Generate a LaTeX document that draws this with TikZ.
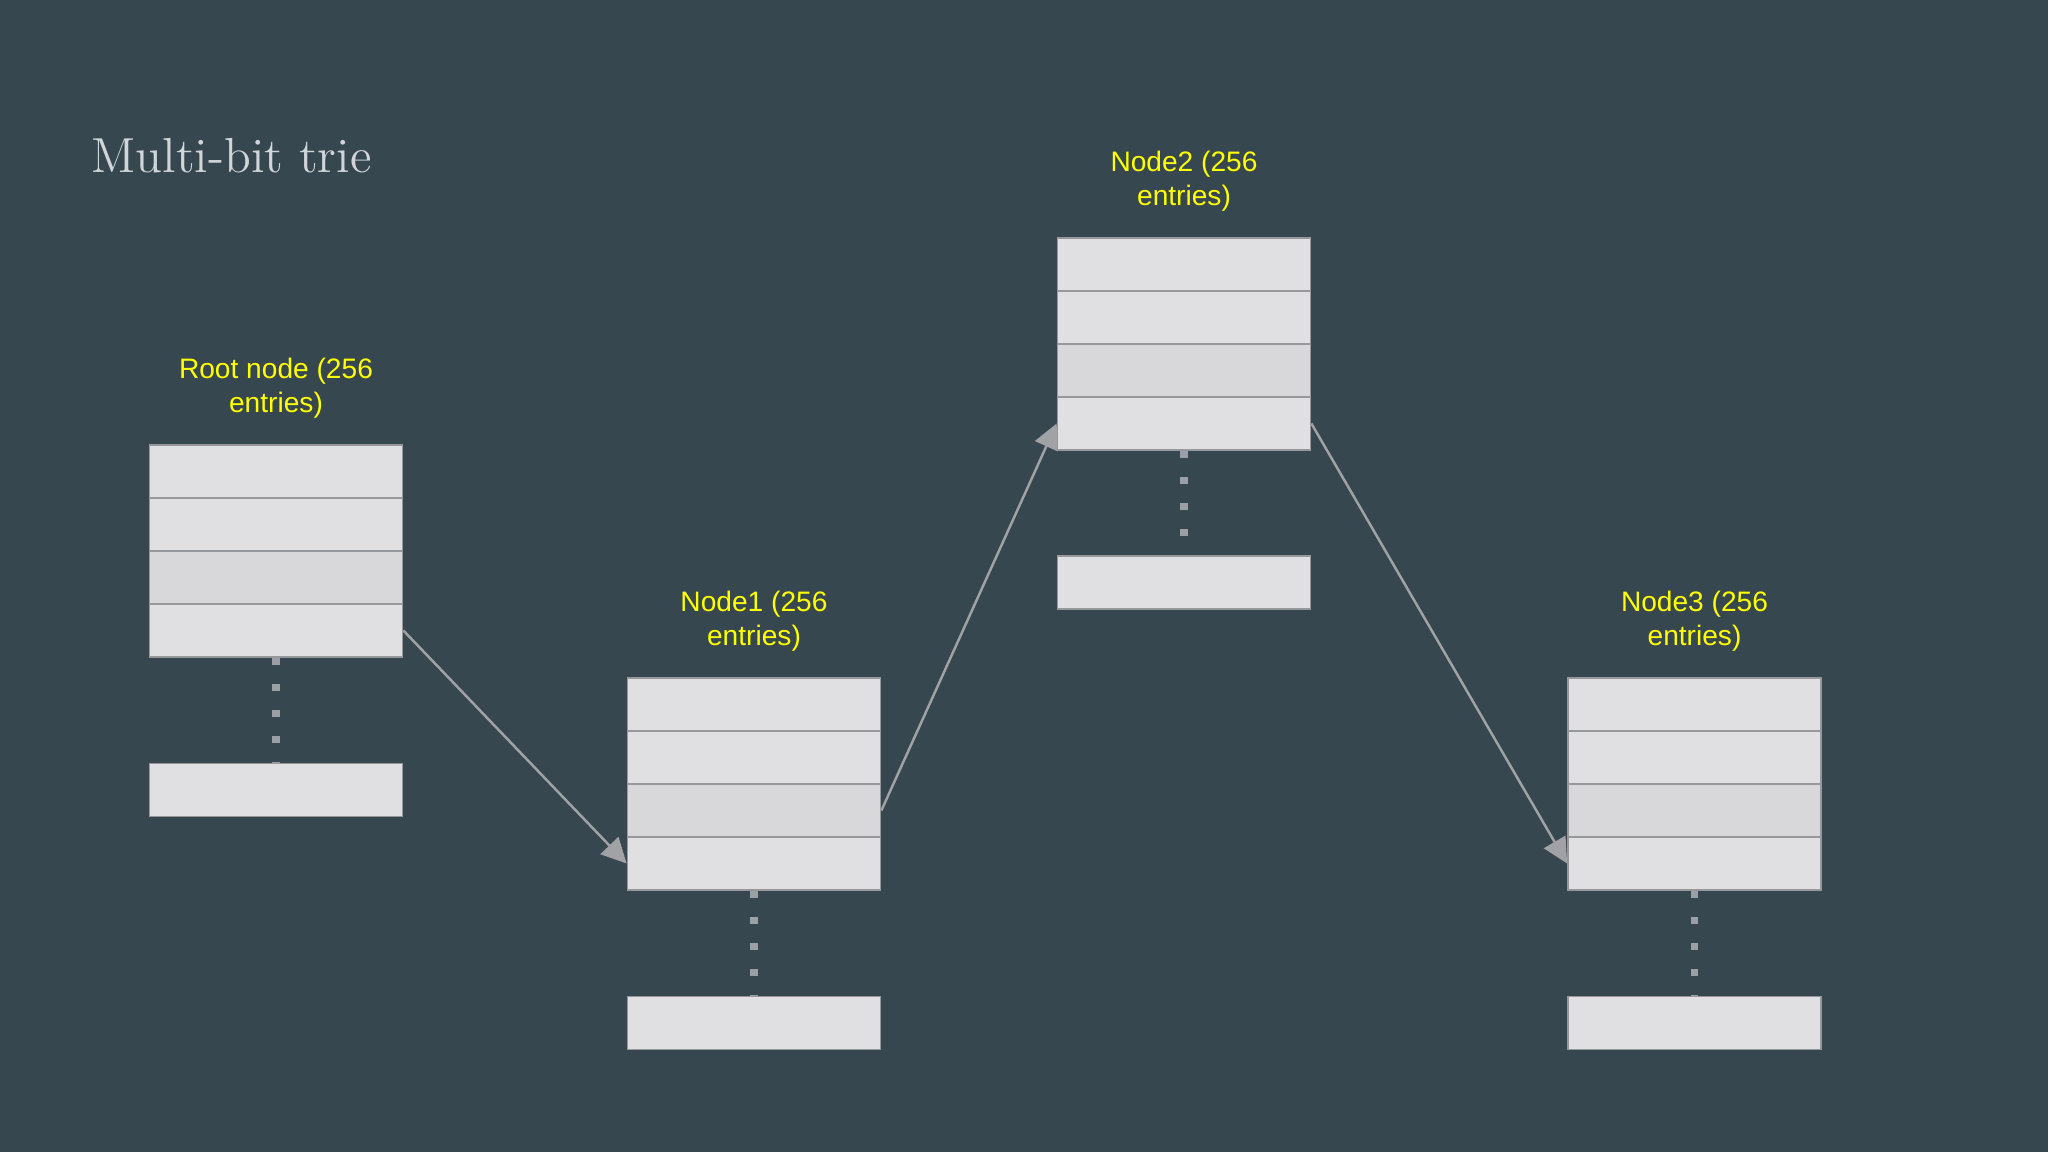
\documentclass[tikz,border=0pt]{standalone}
\usepackage{fontspec}
\usetikzlibrary{arrows.meta}
\newfontfamily\captionfont{Liberation Sans}
\definecolor{slate}{RGB}{55,71,79}
\definecolor{boxfill}{RGB}{224,224,226}
\definecolor{boxdark}{RGB}{216,216,218}
\definecolor{boxline}{RGB}{150,152,156}
\definecolor{linkgrey}{RGB}{160,162,165}
\definecolor{dotgrey}{RGB}{154,160,166}
\definecolor{capyellow}{RGB}{255,255,0}
\definecolor{titlegrey}{RGB}{208,213,217}
\pgfdeclarelayer{back}
\pgfsetlayers{back,main}
\tikzset{
  entry/.style={draw=boxline, fill=boxfill, line width=0.45pt, minimum width=2.53cm, minimum height=0.53cm, inner sep=0pt},
  darkentry/.style={entry, fill=boxdark},
  caption/.style={text=capyellow, font=\captionfont\fontsize{8}{9.7}\selectfont, align=center, inner sep=0pt},
  link/.style={draw=linkgrey, line width=0.7pt, -{Triangle[length=7.1pt,width=7pt,fill=linkgrey]}},
  dots/.style={draw=dotgrey, line width=2pt, dash pattern=on 2pt off 5.4pt}
}
\begin{document}
\begin{tikzpicture}[x=0.01cm,y=-0.01cm]
  \useasboundingbox (0,0) rectangle (2048,1152);
  \node[anchor=base west, inner sep=0pt, text=titlegrey, font=\fontsize{14}{16}\selectfont] (title) at (91,173) {Multi-bit trie};
  % root node
  \path node[caption] (Rcap) at (276,388) {Root node (256\\entries)}
        node[entry] (R1) at (276,471.5) {}
        node[entry] (R2) at (276,524.5) {}
        node[darkentry] (R3) at (276,577.5) {}
        node[entry] (R4) at (276,630.5) {}
        node[entry] (R5) at (276,790) {};
  % node 1
  \path node[caption] (Acap) at (754,621) {Node1 (256\\entries)}
        node[entry] (A1) at (754,704.5) {}
        node[entry] (A2) at (754,757.5) {}
        node[darkentry] (A3) at (754,810.5) {}
        node[entry] (A4) at (754,863.5) {}
        node[entry] (A5) at (754,1023) {};
  % node 2
  \path node[caption] (Bcap) at (1184,181) {Node2 (256\\entries)}
        node[entry] (B1) at (1184,264.5) {}
        node[entry] (B2) at (1184,317.5) {}
        node[darkentry] (B3) at (1184,370.5) {}
        node[entry] (B4) at (1184,423.5) {}
        node[entry] (B5) at (1184,582.5) {};
  % node 3
  \path node[caption] (Ccap) at (1694.5,621) {Node3 (256\\entries)}
        node[entry] (C1) at (1694.5,704.5) {}
        node[entry] (C2) at (1694.5,757.5) {}
        node[darkentry] (C3) at (1694.5,810.5) {}
        node[entry] (C4) at (1694.5,863.5) {}
        node[entry] (C5) at (1694.5,1023) {};
  \begin{pgfonlayer}{back}
    \fill[slate] (0,0) rectangle (2048,1152);
    \draw[dots] (R4.south) -- (R5.north);
    \draw[dots] (A4.south) -- (A5.north);
    \draw[dots] (B4.south) -- (B5.north);
    \draw[dots] (C4.south) -- (C5.north);
    \draw[link] (R4.east) -- (A4.west);
    \draw[link] (A3.east) -- (B4.west);
    \draw[link] (B4.east) -- (C4.west);
  \end{pgfonlayer}
\end{tikzpicture}
\end{document}
